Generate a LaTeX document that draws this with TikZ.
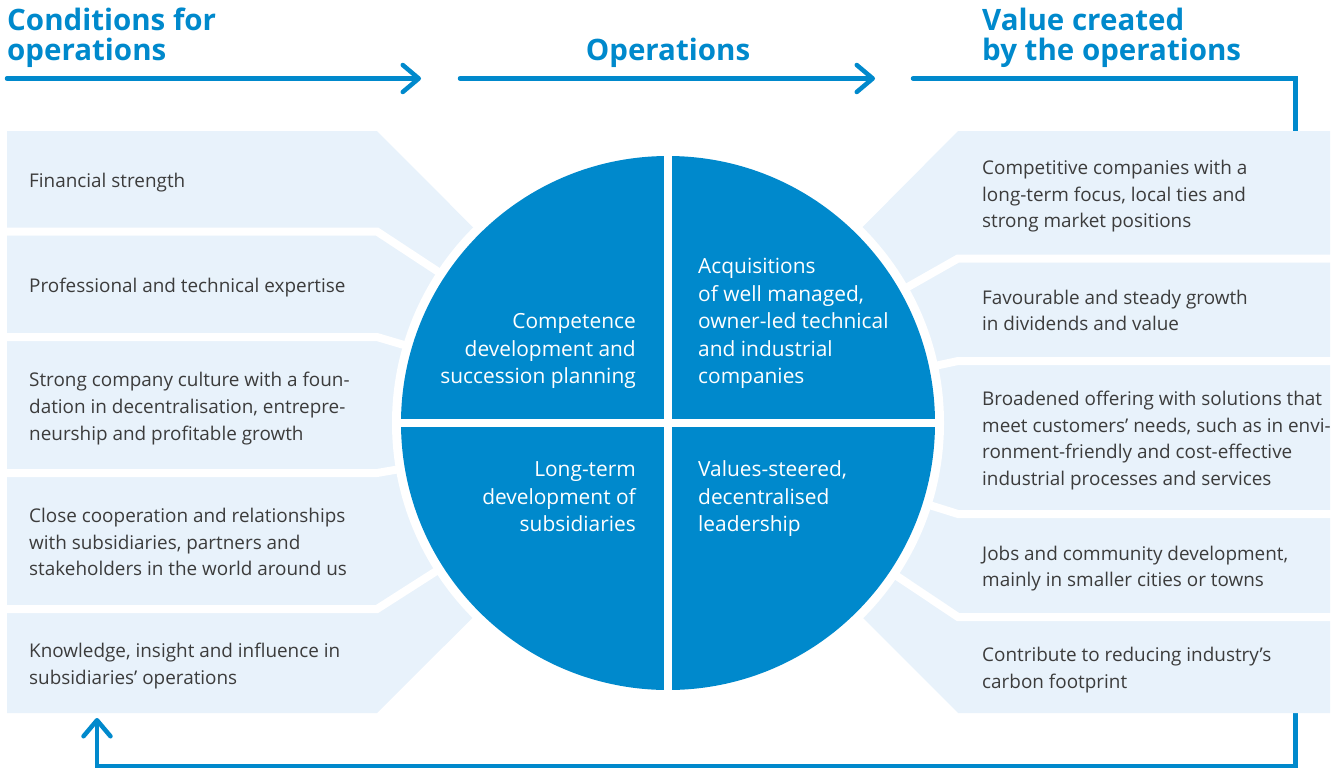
\documentclass[tikz,border=0pt]{standalone}
\usepackage{fontspec}
\setmainfont{Open Sans}
\usetikzlibrary{arrows.meta}
\definecolor{brandblue}{HTML}{0089CC}
\definecolor{boxfill}{HTML}{E8F2FB}
\definecolor{txtgrey}{HTML}{3C3C3C}
\tikzset{
  boxtext/.style={anchor=base west, align=left, inner sep=0pt, text=txtgrey,
    font=\fontsize{18.9}{26.7}\selectfont},
  quadleft/.style={anchor=base east, align=right, inner sep=0pt, text=white,
    font=\fontsize{20.9}{27.5}\selectfont},
  quadright/.style={anchor=base west, align=left, inner sep=0pt, text=white,
    font=\fontsize{20.9}{27.5}\selectfont},
  heading/.style={anchor=base west, align=left, inner sep=0pt, text=brandblue,
    font=\fontsize{29.5}{30}\selectfont\bfseries},
  flowline/.style={draw=brandblue, line width=4.5pt, line cap=round, line join=miter},
  flowtip/.style={-{Straight Barb[length=16pt,width=27pt,round]}},
  gapline/.style={draw=white, line width=8pt, line join=miter}
}
\begin{document}
\begin{tikzpicture}[x=1pt,y=-1pt]
\useasboundingbox (0,0) rectangle (1332,769);
\coordinate (C) at (668,423);
% return flow line (behind the boxes)
\coordinate (r1) at (913,78.5);
\coordinate (r2) at (1295.5,78.5);
\coordinate (r3) at (1295.5,766);
\coordinate (r4) at (97,766);
\coordinate (r5) at (97,718);
\draw[flowline, flowtip] (r1) -- (r2) -- (r3) -- (r4) -- (r5);
% light boxes
\fill[boxfill] (7,131) -- (377,131) -- (C) -- (377,713) -- (7,713) -- cycle;
\fill[boxfill] (1330,131) -- (958,131) -- (C) -- (958,713) -- (1330,713) -- cycle;
\fill[white] (C) circle[radius=276];
\foreach \yy in {231.5,337,473,609} {
  \draw[gapline] (0,\yy) -- (377,\yy) -- (C);
}
\foreach \yy in {258.5,361,514,617} {
  \draw[gapline] (1332,\yy) -- (958,\yy) -- (C);
}
% circle
\fill[brandblue] (C) circle[radius=267];
\draw[gapline] ([xshift=-270pt]C) -- ([xshift=270pt]C);
\draw[gapline] ([yshift=-270pt]C) -- ([yshift=270pt]C);
% quadrant texts (anchored at last baseline)
\node[quadleft] (q1) at (636,383.5) {Competence\\development and\\succession planning};
\node[quadright] (q2) at (698,383.5) {Acquisitions\\of well managed,\\owner-led technical\\and industrial\\companies};
\node[quadleft] (q3) at (636,531.5) {Long-term\\development of\\subsidiaries};
\node[quadright] (q4) at (698,531.5) {Values-steered,\\decentralised\\leadership};
% left texts (anchored at last baseline)
\node[boxtext] (l1) at (29,187.5) {Financial strength};
\node[boxtext] (l2) at (29,292) {Professional and technical expertise};
\node[boxtext] (l3) at (29,440.3) {Strong company culture with a foun-\\dation in decentralisation, entrepre-\\neurship and profitable growth};
\node[boxtext] (l4) at (29,575.7) {Close cooperation and relationships\\with subsidiaries, partners and\\stakeholders in the world around us};
\node[boxtext] (l5) at (29,684.3) {Knowledge, insight and influence in\\subsidiaries’ operations};
% right texts
\node[boxtext] (v1) at (982,227.7) {Competitive companies with a\\long-term focus, local ties and\\strong market positions};
\node[boxtext] (v2) at (982,330.9) {Favourable and steady growth\\in dividends and value};
\node[boxtext] (v3) at (982,485.5) {Broadened offering with solutions that\\meet customers’ needs, such as in envi-\\ronment-friendly and cost-effective\\industrial processes and services};
\node[boxtext] (v4) at (982,586.9) {Jobs and community development,\\mainly in smaller cities or towns};
\node[boxtext] (v5) at (982,688.3) {Contribute to reducing industry’s\\carbon footprint};
% headings
\node[heading] (h1) at (7,60) {Conditions for\\operations};
\node[heading, anchor=base] (h2) at (668,60.5) {Operations};
\node[heading] (h3) at (982,60) {Value created\\by the operations};
% top arrows
\coordinate (a1) at (7,78.5);
\coordinate (b1) at (421,78.5);
\coordinate (a2) at (460,78.5);
\coordinate (b2) at (875,78.5);
\draw[flowline, flowtip] (a1) -- (b1);
\draw[flowline, flowtip] (a2) -- (b2);
\end{tikzpicture}
\end{document}
